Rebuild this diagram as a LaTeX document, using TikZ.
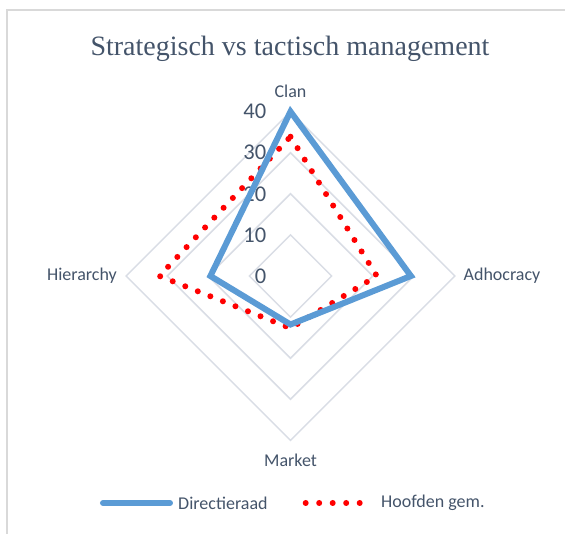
\documentclass[tikz,border=0pt]{standalone}
\usepackage{fontspec}
\setmainfont{Liberation Serif}
\setsansfont{Carlito}
\usetikzlibrary{positioning}
\definecolor{txtgray}{HTML}{44546A}
\definecolor{gridgray}{HTML}{D9DDE5}
\definecolor{framegray}{HTML}{D9D9D9}
\definecolor{dirblue}{HTML}{5B9BD5}
\definecolor{hoofdred}{HTML}{FF0000}
\begin{document}
\begin{tikzpicture}[x=1pt, y=1pt,
		axlabel/.style={font=\sffamily\fontsize{18}{18}\selectfont, text=txtgray, inner sep=0pt},
		ticklabel/.style={font=\sffamily\fontsize{22.5}{22.5}\selectfont, text=txtgray, anchor=east, inner sep=0pt},
		legtext/.style={font=\sffamily\fontsize{18}{18}\selectfont, text=txtgray, anchor=west, inner sep=0pt},
		gridline/.style={draw=gridgray, line width=1.5pt, line join=miter},
		dirline/.style={draw=dirblue, line width=6pt, line join=miter},
		hoofdline/.style={draw=hoofdred, line width=6pt, line cap=round, dash pattern=on 0pt off 13.5pt}
		]
		\useasboundingbox (-290.5,-258) rectangle (274.5,276);
		% chart frame
		\draw[framegray, line width=1.5pt] (-283.5,-262) -- (-283.5,266) -- (280,266);
		\node[font=\fontsize{28}{28}\selectfont, text=txtgray, anchor=base] (title) at (-0.5, 220) {Strategisch vs tactisch management};
		
		% grid
		\draw[gridline] (90:41.1) -- (0:41.1) -- (270:41.1) -- (180:41.1) -- cycle;
		\draw[gridline] (90:82.2) -- (0:82.2) -- (270:82.2) -- (180:82.2) -- cycle;
		\draw[gridline] (90:123.3) -- (0:123.3) -- (270:123.3) -- (180:123.3) -- cycle;
		\draw[gridline] (90:164.4) -- (0:164.4) -- (270:164.4) -- (180:164.4) -- cycle;
		
		\node[ticklabel] (t0) at (-24, 0) {0};
		\node[ticklabel] (t10) at (-24, 41.1) {10};
		\node[ticklabel] (t20) at (-24, 82.2) {20};
		\node[ticklabel] (t30) at (-24, 123.3) {30};
		\node[ticklabel] (t40) at (-24, 164.4) {40};
		
		\node[axlabel] (clan) at (0, 185) {Clan};
		\node[axlabel] (adho) at (211.5, 0) {Adhocracy};
		\node[axlabel] (mark) at (0, -184) {Market};
		\node[axlabel] (hier) at (-208.5, 0) {Hierarchy};
		
		% Directieraad
		\coordinate (d1) at (90:164.4);
		\coordinate (d2) at (0:120.4);
		\coordinate (d3) at (270:48.5);
		\coordinate (d4) at (180:80.1);
		% Hoofden gem.
		\coordinate (h1) at (90:139.3);
		\coordinate (h2) at (0:86.3);
		\coordinate (h3) at (270:52.2);
		\coordinate (h4) at (180:131.1);
		
		\draw[hoofdline] (h1) -- (h2) -- (h3) -- (h4) -- cycle;
		\draw[dirline] (d1) -- (d2) -- (d3) -- (d4) -- cycle;
		
		% legend
		\coordinate (ld1) at (-187.5, -227);
		\coordinate (ld2) at (-120.5, -227);
		\draw[dirline, line cap=round] (ld1) -- (ld2);
		\node[legtext] (ldir) at (-112.5, -227) {Directieraad};
		\coordinate (lh1) at (15.2, -227);
		\coordinate (lh2) at (69.7, -227);
		\draw[hoofdline] (lh1) -- (lh2);
		\node[legtext] (lhoofd) at (90.5, -227) {Hoofden gem.};
		
\end{tikzpicture}
\end{document}
